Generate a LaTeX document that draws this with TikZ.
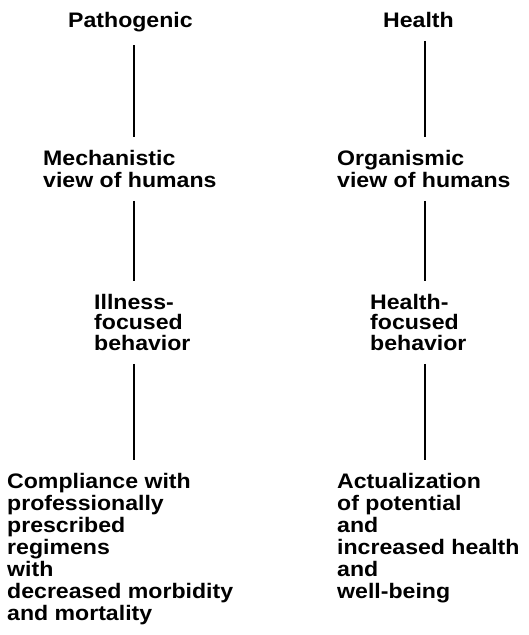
\documentclass[tikz,border=0pt]{standalone}
\usepackage{fontspec}
\setmainfont{Liberation Sans}[FakeStretch=1.1]
\usepackage{tikz}
\usetikzlibrary{positioning}
\tikzstyle{term} = [inner sep=0pt, anchor=north west, align=left, font=\bfseries\fontsize{21}{22}\selectfont]
\tikzstyle{tight} = [font=\bfseries\fontsize{21}{20.5}\selectfont]
\tikzstyle{link} = [line width=1.3pt, shorten <=13pt, shorten >=13pt]

\begin{document}
\begin{tikzpicture}[x=1pt, y=1pt]
    \useasboundingbox (0,0) rectangle (529,-635);
    \coordinate (lcol) at (134,0);
    \coordinate (rcol) at (425,0);

    % Pathogenic column
    \node[term] (path) at (68,-12) {Pathogenic};
    \node[term] (mech) at (43,-150) {Mechanistic\\view of humans};
    \node[term, tight] (ill) at (94,-294) {Illness-\\focused\\behavior};
    \node[term] (comp) at (7,-473) {Compliance with\\professionally\\prescribed\\regimens\\with\\decreased morbidity\\and mortality};

    % Health column
    \node[term] (hlth) at (383,-12) {Health};
    \node[term] (org) at (337,-150) {Organismic\\view of humans};
    \node[term, tight] (hfoc) at (370,-294) {Health-\\focused\\behavior};
    \node[term] (act) at (337,-473) {Actualization\\of potential\\and\\increased health\\and\\well-being};

    % Connectors
    \draw[link] (path.south -| lcol) -- (mech.north -| lcol);
    \draw[link] (mech.south -| lcol) -- (ill.north -| lcol);
    \draw[link] (ill.south -| lcol) -- (comp.north -| lcol);
    \draw[link] (hlth.south -| rcol) -- (org.north -| rcol);
    \draw[link] (org.south -| rcol) -- (hfoc.north -| rcol);
    \draw[link] (hfoc.south -| rcol) -- (act.north -| rcol);
\end{tikzpicture}
\end{document}
